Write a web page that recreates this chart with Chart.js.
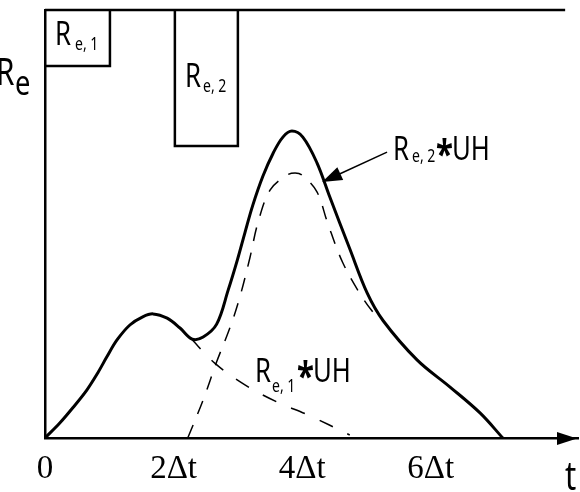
<!DOCTYPE html>
<html lang="en">
<head>
<meta charset="UTF-8">
<title>Unit hydrograph superposition</title>
<script src="https://cdn.jsdelivr.net/npm/chart.js"></script>
<style>
  body { margin: 0; background: #fff; }
</style>
</head>
<body>
<canvas id="myChart" width="580" height="492"></canvas>
<script>
// time in units of Δt, discharge as % of the top line
const totalT = [0, 0.23, 0.44, 0.65, 0.82, 0.96, 1.12, 1.32, 1.52, 1.68, 1.90, 2.10, 2.29, 2.46, 2.67, 2.85, 2.99, 3.11, 3.23, 3.39, 3.55, 3.70, 3.84, 4.01, 4.23, 4.43, 4.74, 5.01, 5.26, 5.79, 6.30, 6.77, 7.12];
const totalQ = [0, 3.5, 7.2, 11.2, 15.2, 18.9, 22.9, 26.4, 28.3, 29.0, 28.0, 25.7, 23.1, 23.6, 26.6, 34.6, 41.5, 48.0, 54.3, 61.2, 66.6, 70.3, 71.7, 70.3, 64.3, 56.3, 44.2, 33.9, 27.4, 18.2, 11.9, 5.8, 0];
const uh2T = [2.22, 2.46, 2.67, 2.88, 3.03, 3.19, 3.31, 3.50, 3.76, 3.89, 4.00, 4.23, 4.39, 4.63, 4.95, 5.21];
const uh2Q = [0, 8.9, 17.8, 25.9, 32.9, 42.3, 50.2, 57.9, 61.4, 61.9, 61.4, 57.5, 50.5, 41.0, 32.5, 27.3];
const uh1T = [2.26, 2.64, 3.11, 3.61, 4.09, 4.74];
const uh1Q = [23.4, 17.5, 12.4, 8.4, 5.4, 0.7];
const rain1T = [0, 1.01, 1.01];
const rain1Q = [86.9, 86.9, 100];
const rain2T = [2.02, 2.02, 3.0, 3.0];
const rain2Q = [100, 68.2, 68.2, 100];
const topT = [0, 8.09];
const topQ = [100, 100];
const tickValues = [0, 2, 4, 6];
const tickLabels = ['0', '2Δt', '4Δt', '6Δt'];
const arrowFrom = [5.32, 66.8];
const arrowTo = [4.31, 59.8];

function pts(xs, ys) {
  return xs.map((x, i) => ({ x: x, y: ys[i] }));
}

// narrow gothic-looking text
function txt(ctx, s, x, y, size, weight) {
  ctx.save();
  ctx.font = (weight || 'normal') + ' ' + size + 'px "Noto Sans"';
  ctx.translate(x, y);
  ctx.scale(0.78, 1);
  ctx.fillText(s, 0, 0);
  ctx.restore();
}

const extras = {
  id: 'extras',
  afterDraw(chart) {
    const ctx = chart.ctx;
    const xs = chart.scales.x, ys = chart.scales.y;
    const a = chart.chartArea;
    ctx.save();
    ctx.fillStyle = '#000';
    ctx.strokeStyle = '#000';
    ctx.textBaseline = 'alphabetic';

    // x axis arrowhead
    ctx.beginPath();
    ctx.moveTo(a.right - 1, a.bottom + 0.5);
    ctx.lineTo(a.right - 21, a.bottom - 6);
    ctx.lineTo(a.right - 21, a.bottom + 7);
    ctx.closePath();
    ctx.fill();

    // pointer to the Re,2*UH curve
    const x1 = xs.getPixelForValue(arrowFrom[0]), y1 = ys.getPixelForValue(arrowFrom[1]);
    const x2 = xs.getPixelForValue(arrowTo[0]), y2 = ys.getPixelForValue(arrowTo[1]);
    const ang = Math.atan2(y2 - y1, x2 - x1);
    ctx.lineWidth = 1.5;
    ctx.beginPath();
    ctx.moveTo(x1, y1);
    ctx.lineTo(x2 - 15 * Math.cos(ang), y2 - 15 * Math.sin(ang));
    ctx.stroke();
    ctx.beginPath();
    ctx.moveTo(x2, y2);
    ctx.lineTo(x2 - 20 * Math.cos(ang) + 7 * Math.sin(ang), y2 - 20 * Math.sin(ang) - 7 * Math.cos(ang));
    ctx.lineTo(x2 - 20 * Math.cos(ang) - 7 * Math.sin(ang), y2 - 20 * Math.sin(ang) + 7 * Math.cos(ang));
    ctx.closePath();
    ctx.fill();

    // labels
    txt(ctx, 'R', -4, 85, 38);
    txt(ctx, 'e', 15, 95, 35);

    txt(ctx, 'R', 55, 45, 33);
    txt(ctx, 'e, 1', 75, 50, 18);

    txt(ctx, 'R', 185, 87, 33);
    txt(ctx, 'e, 2', 203, 92, 18);

    txt(ctx, 'R', 393, 160, 33);
    txt(ctx, 'e, 2', 412, 162, 18);
    txt(ctx, '*', 436, 168, 40, 'bold');
    txt(ctx, 'UH', 452, 160, 33);

    txt(ctx, 'R', 255, 382, 33);
    txt(ctx, 'e, 1', 272, 392, 18);
    txt(ctx, '*', 297, 390, 40, 'bold');
    txt(ctx, 'UH', 313, 382, 33);

    txt(ctx, 't', 565, 490, 40);
    ctx.restore();
  }
};

const line = (data, width, dash, tension) => ({
  data: data,
  borderColor: '#000',
  borderWidth: width,
  borderDash: dash,
  pointRadius: 0,
  fill: false,
  clip: false,
  tension: tension
});

new Chart(document.getElementById('myChart'), {
  type: 'line',
  data: {
    datasets: [
      line(pts(topT, topQ), 2.5, [], 0),
      line(pts(rain1T, rain1Q), 2.5, [], 0),
      line(pts(rain2T, rain2Q), 2.5, [], 0),
      line(pts(uh2T, uh2Q), 1.5, [14, 12], 0.35),
      line(pts(uh1T, uh1Q), 1.5, [15, 16], 0.35),
      line(pts(totalT, totalQ), 3, [], 0.35)
    ]
  },
  options: {
    responsive: false,
    animation: false,
    devicePixelRatio: 1,
    layout: { padding: { left: 45, right: 2, top: 10, bottom: 0 } },
    plugins: { legend: { display: false }, tooltip: { enabled: false } },
    scales: {
      x: {
        type: 'linear',
        min: 0,
        max: 8.29,
        afterFit: s => { s.height = 54; },
        afterBuildTicks: s => { s.ticks = tickValues.map(v => ({ value: v })); },
        grid: { display: false, drawTicks: false },
        border: { display: true, color: '#000', width: 2.5 },
        ticks: {
          autoSkip: false,
          maxRotation: 0,
          padding: 12,
          color: '#000',
          font: { family: "'Liberation Serif', 'DejaVu Serif', serif", size: 33 },
          callback: (v, i) => tickLabels[i]
        }
      },
      y: {
        min: 0,
        max: 100,
        afterFit: s => { s.width = 0; },
        grid: { display: false, drawTicks: false },
        border: { display: true, color: '#000', width: 2.5 },
        ticks: { display: false }
      }
    }
  },
  plugins: [extras]
});
</script>
</body>
</html>
